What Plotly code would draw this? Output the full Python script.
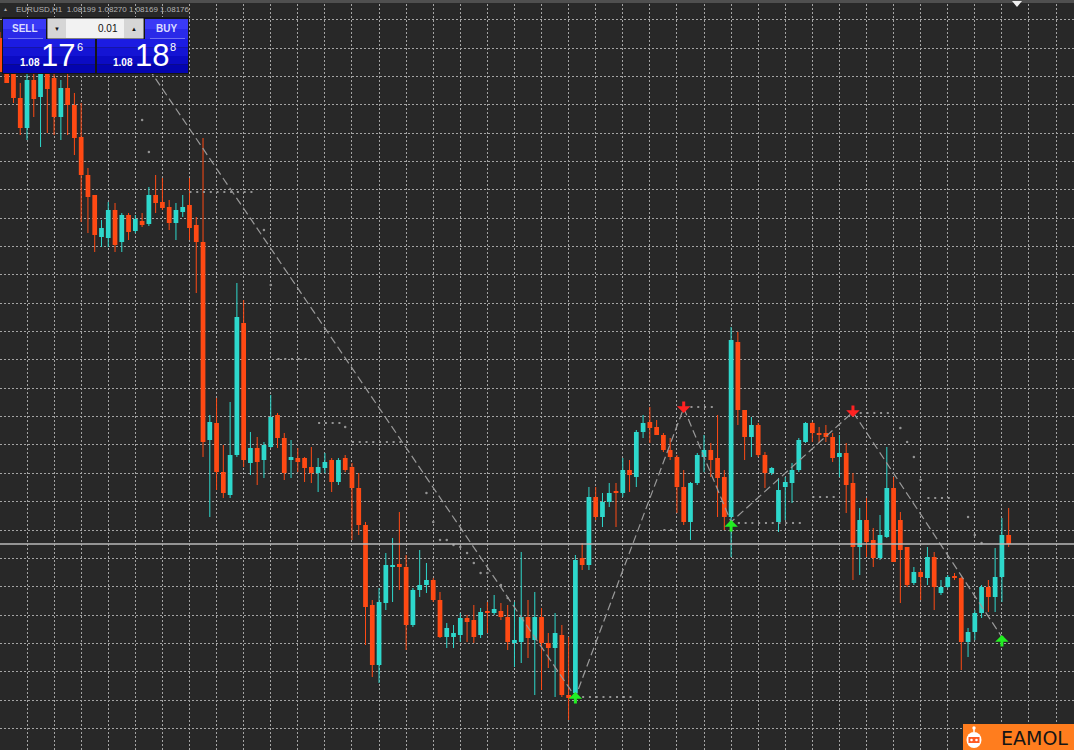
import plotly.graph_objects as go

# ---------------- data (EURUSD H1 bars) ----------------
bars = list(range(-1, 149))
opens = [1.09188, 1.09154, 1.09140, 1.09068, 1.09008, 1.09104, 1.09070, 1.09132, 1.09108, 1.09030,
         1.09088, 1.09054, 1.08990, 1.08914, 1.08874, 1.08790, 1.08788, 1.08844, 1.08780, 1.08834,
         1.08802, 1.08822, 1.08816, 1.08874, 1.08860, 1.08850, 1.08818, 1.08840, 1.08854, 1.08814,
         1.08780, 1.08384, 1.08418, 1.08320, 1.08274, 1.08354, 1.08618, 1.08338, 1.08368, 1.08344,
         1.08370, 1.08434, 1.08388, 1.08344, 1.08348, 1.08348, 1.08330, 1.08318, 1.08328, 1.08344,
         1.08300, 1.08348, 1.08330, 1.08288, 1.08214, 1.08054, 1.07934, 1.08058, 1.08130, 1.08136,
         1.08130, 1.08014, 1.08084, 1.08094, 1.08104, 1.08064, 1.07990, 1.07990, 1.07994, 1.08028,
         1.08024, 1.07994, 1.08042, 1.08038, 1.08042, 1.08030, 1.07978, 1.07980, 1.08030, 1.07984,
         1.08030, 1.07978, 1.07968, 1.07994, 1.07874, 1.07878, 1.08148, 1.08134, 1.08270, 1.08230,
         1.08260, 1.08280, 1.08278, 1.08324, 1.08310, 1.08400, 1.08420, 1.08410, 1.08394, 1.08364,
         1.08350, 1.08290, 1.08220, 1.08298, 1.08350, 1.08364, 1.08348, 1.08310, 1.08230, 1.08580,
         1.08444, 1.08390, 1.08414, 1.08354, 1.08318, 1.08220, 1.08290, 1.08298, 1.08324, 1.08380,
         1.08418, 1.08398, 1.08398, 1.08390, 1.08350, 1.08358, 1.08298, 1.08170, 1.08224, 1.08184,
         1.08148, 1.08190, 1.08288, 1.08224, 1.08170, 1.08098, 1.08120, 1.08108, 1.08150, 1.08078,
         1.08090, 1.08112, 1.08108, 1.07980, 1.08000, 1.08038, 1.08090, 1.08070, 1.08110, 1.08194]
highs = [1.09200, 1.09174, 1.09164, 1.09098, 1.09124, 1.09128, 1.09144, 1.09144, 1.09134, 1.09104,
         1.09124, 1.09078, 1.09058, 1.08928, 1.08874, 1.08824, 1.08860, 1.08858, 1.08838, 1.08838,
         1.08834, 1.08838, 1.08890, 1.08914, 1.08908, 1.08864, 1.08858, 1.08874, 1.08908, 1.08830,
         1.08988, 1.08434, 1.08468, 1.08374, 1.08460, 1.08698, 1.08664, 1.08400, 1.08390, 1.08380,
         1.08474, 1.08438, 1.08398, 1.08384, 1.08368, 1.08350, 1.08370, 1.08348, 1.08358, 1.08348,
         1.08348, 1.08354, 1.08338, 1.08318, 1.08220, 1.08064, 1.08088, 1.08158, 1.08188, 1.08240,
         1.08154, 1.08088, 1.08164, 1.08138, 1.08108, 1.08080, 1.08018, 1.08014, 1.08038, 1.08034,
         1.08054, 1.08048, 1.08060, 1.08074, 1.08058, 1.08054, 1.08060, 1.08160, 1.08064, 1.08080,
         1.08048, 1.07998, 1.08038, 1.08014, 1.07990, 1.08154, 1.08178, 1.08290, 1.08290, 1.08278,
         1.08298, 1.08298, 1.08348, 1.08344, 1.08404, 1.08434, 1.08450, 1.08424, 1.08398, 1.08388,
         1.08354, 1.08324, 1.08300, 1.08358, 1.08394, 1.08378, 1.08434, 1.08324, 1.08610, 1.08600,
         1.08444, 1.08430, 1.08418, 1.08360, 1.08330, 1.08308, 1.08310, 1.08338, 1.08388, 1.08420,
         1.08420, 1.08410, 1.08414, 1.08398, 1.08394, 1.08378, 1.08318, 1.08248, 1.08268, 1.08208,
         1.08234, 1.08370, 1.08310, 1.08240, 1.08170, 1.08130, 1.08124, 1.08170, 1.08160, 1.08104,
         1.08114, 1.08118, 1.08110, 1.08008, 1.08044, 1.08094, 1.08104, 1.08168, 1.08228, 1.08248]
lows = [1.09120, 1.09098, 1.09058, 1.08994, 1.08984, 1.09030, 1.08970, 1.08998, 1.08994, 1.08984,
        1.08994, 1.08954, 1.08820, 1.08798, 1.08760, 1.08770, 1.08770, 1.08760, 1.08760, 1.08784,
        1.08798, 1.08810, 1.08812, 1.08838, 1.08844, 1.08804, 1.08784, 1.08830, 1.08784, 1.08678,
        1.08350, 1.08230, 1.08284, 1.08268, 1.08268, 1.08350, 1.08330, 1.08314, 1.08294, 1.08308,
        1.08368, 1.08368, 1.08304, 1.08308, 1.08320, 1.08300, 1.08298, 1.08280, 1.08318, 1.08280,
        1.08294, 1.08320, 1.08184, 1.08194, 1.07974, 1.07910, 1.07898, 1.08044, 1.08060, 1.08084,
        1.07964, 1.08010, 1.08070, 1.08078, 1.08060, 1.07988, 1.07968, 1.07968, 1.07980, 1.07980,
        1.07978, 1.07988, 1.07998, 1.08034, 1.08024, 1.07964, 1.07930, 1.07938, 1.07948, 1.07874,
        1.07884, 1.07928, 1.07870, 1.07870, 1.07824, 1.07860, 1.08124, 1.08124, 1.08224, 1.08210,
        1.08250, 1.08210, 1.08270, 1.08280, 1.08290, 1.08388, 1.08378, 1.08394, 1.08360, 1.08344,
        1.08238, 1.08214, 1.08184, 1.08294, 1.08320, 1.08310, 1.08230, 1.08204, 1.08150, 1.08414,
        1.08344, 1.08350, 1.08350, 1.08288, 1.08314, 1.08200, 1.08224, 1.08258, 1.08320, 1.08378,
        1.08380, 1.08378, 1.08380, 1.08340, 1.08310, 1.08238, 1.08104, 1.08114, 1.08150, 1.08130,
        1.08144, 1.08188, 1.08140, 1.08058, 1.08090, 1.08094, 1.08064, 1.08094, 1.08044, 1.08074,
        1.08088, 1.08104, 1.07924, 1.07950, 1.07984, 1.08028, 1.08040, 1.08040, 1.08060, 1.08170]
closes = [1.09120, 1.09098, 1.09068, 1.09008, 1.09104, 1.09066, 1.09132, 1.09086, 1.09030, 1.09088,
          1.09054, 1.08988, 1.08914, 1.08870, 1.08794, 1.08808, 1.08844, 1.08774, 1.08834, 1.08800,
          1.08826, 1.08814, 1.08874, 1.08858, 1.08848, 1.08818, 1.08844, 1.08850, 1.08808, 1.08780,
          1.08380, 1.08420, 1.08320, 1.08278, 1.08354, 1.08630, 1.08344, 1.08368, 1.08340, 1.08374,
          1.08430, 1.08388, 1.08318, 1.08350, 1.08340, 1.08328, 1.08318, 1.08330, 1.08340, 1.08300,
          1.08344, 1.08324, 1.08288, 1.08214, 1.08050, 1.07934, 1.08060, 1.08134, 1.08134, 1.08130,
          1.08014, 1.08084, 1.08094, 1.08104, 1.08064, 1.07990, 1.08008, 1.07998, 1.08028, 1.08020,
          1.07990, 1.08040, 1.08038, 1.08046, 1.08030, 1.07980, 1.07984, 1.08030, 1.07988, 1.08030,
          1.07978, 1.07968, 1.07998, 1.07874, 1.07868, 1.08144, 1.08134, 1.08270, 1.08230, 1.08260,
          1.08278, 1.08278, 1.08324, 1.08314, 1.08400, 1.08418, 1.08408, 1.08394, 1.08364, 1.08350,
          1.08290, 1.08220, 1.08298, 1.08354, 1.08364, 1.08344, 1.08308, 1.08230, 1.08584, 1.08444,
          1.08390, 1.08414, 1.08354, 1.08318, 1.08328, 1.08284, 1.08300, 1.08324, 1.08384, 1.08418,
          1.08398, 1.08394, 1.08390, 1.08348, 1.08358, 1.08294, 1.08170, 1.08224, 1.08180, 1.08148,
          1.08194, 1.08288, 1.08140, 1.08164, 1.08094, 1.08120, 1.08110, 1.08150, 1.08090, 1.08090,
          1.08110, 1.08108, 1.07980, 1.08000, 1.08038, 1.08090, 1.08070, 1.08110, 1.08194, 1.08176]

# ZigZag-style signal indicator
zz_bar = [18, 84, 100, 107, 125, 147]
zz_price = [1.09186, 1.07870, 1.08448, 1.08220, 1.08440, 1.07990]
buy_bar = [84, 107, 147]
buy_price = [1.07880, 1.08224, 1.07994]
sell_bar = [100, 125]
sell_price = [1.08438, 1.08430]

# dotted indicator levels: (first bar, last bar, price)
lvl_start = [27, 40, 46, 51, 85, 97, 101, 108, 119, 126, 136]
lvl_end = [37, 45, 50, 60, 93, 99, 105, 118, 123, 131, 140]
lvl_price = [1.08880, 1.08546, 1.08418, 1.08380, 1.07870, 1.08204, 1.08450, 1.08218, 1.08270, 1.08438, 1.08268]
# single indicator dots
dot_bar = [20, 21, 38, 39, 50, 62, 63, 64, 65, 66, 67, 68, 69, 70, 71, 73, 74,
           132, 133, 134, 135, 142, 143, 144]
dot_price = [1.09024, 1.08960, 1.08804, 1.08694, 1.08410, 1.08278, 1.08220, 1.08184, 1.08184,
             1.08174, 1.08170, 1.08158, 1.08138, 1.08118, 1.08118, 1.08094, 1.08068,
             1.08408, 1.08380, 1.08350, 1.08304, 1.08230, 1.08194, 1.08178]

symbol = "EURUSD,H1"
last_ohlc = ["1.08199", "1.08270", "1.08169", "1.08176"]
bid_price = 1.08176

# ---------------- styling ----------------
W, H = 1074, 750
BG = "#282828"
GRID = "#a4a4a4"
BULL = "#2ed8cc"
BEAR = "#ff4a14"

fig = go.Figure()

# wicks
for is_bull, col in [(True, BULL), (False, BEAR)]:
    xs, ys = [], []
    for b, o, h, l, c in zip(bars, opens, highs, lows, closes):
        if (c >= o) == is_bull:
            xs += [b, b, None]
            ys += [l, h, None]
    fig.add_trace(go.Scatter(x=xs, y=ys, mode="lines", line=dict(color=col, width=1),
                             hoverinfo="skip", showlegend=False))

# bodies
for is_bull, col in [(True, BULL), (False, BEAR)]:
    bx, bb, bh = [], [], []
    for b, o, c in zip(bars, opens, closes):
        if (c >= o) == is_bull:
            bx.append(b)
            bb.append(min(o, c))
            bh.append(max(abs(c - o), 0.000025))
    fig.add_trace(go.Bar(x=bx, y=bh, base=bb, width=0.7, marker=dict(color=col, line=dict(width=0)),
                         hoverinfo="skip", showlegend=False))

# zigzag dashed line
fig.add_trace(go.Scatter(x=zz_bar, y=zz_price, mode="lines",
                         line=dict(color="#9a9a9a", width=1.2, dash="8px,4px"),
                         hoverinfo="skip", showlegend=False))

# dotted levels
for s, e, p in zip(lvl_start, lvl_end, lvl_price):
    fig.add_trace(go.Scatter(x=[s, e], y=[p, p], mode="lines",
                             line=dict(color="#939393", width=2, dash="2px,4.77px"),
                             hoverinfo="skip", showlegend=False))
fig.add_trace(go.Scatter(x=dot_bar, y=dot_price, mode="markers",
                         marker=dict(color="#939393", size=2.5),
                         hoverinfo="skip", showlegend=False))

X_RANGE = [-0.99, 157.65]
Y_RANGE = [1.07764, 1.09264]

fig.update_layout(
    width=W, height=H, margin=dict(l=0, r=0, t=0, b=0),
    paper_bgcolor=BG, plot_bgcolor=BG, barmode="overlay", showlegend=False,
    hovermode=False,
    xaxis=dict(range=X_RANGE, showgrid=True, gridcolor=GRID, griddash="1.5px,2.5px", gridwidth=1.3,
               tick0=-1, dtick=4, showticklabels=False, zeroline=False, showline=False, ticks=""),
    yaxis=dict(range=Y_RANGE, showgrid=True, gridcolor=GRID, griddash="1.5px,2.5px", gridwidth=1.3,
               tick0=1.08204, dtick=0.000567, showticklabels=False, zeroline=False, showline=False,
               ticks=""),
)

shapes = []
anns = []


def PX(x):
    return x / W


def PY(y):
    return 1 - y / H


def rect(x0, y0, x1, y1, fill, line=None, lw=0):
    shapes.append(dict(type="rect", xref="paper", yref="paper", x0=PX(x0), x1=PX(x1),
                       y0=PY(y1), y1=PY(y0), fillcolor=fill,
                       line=dict(color=line or fill, width=lw), layer="above"))


def text(x, y, s, size, color, xanchor="center", family="Liberation Sans", bold=False):
    if bold:
        s = "<b>" + s + "</b>"
    anns.append(dict(xref="paper", yref="paper", x=PX(x), y=PY(y), text=s, showarrow=False,
                     xanchor=xanchor, yanchor="middle",
                     font=dict(size=size, color=color, family=family)))


# bid price line
shapes.append(dict(type="line", xref="paper", yref="y", x0=0, x1=1, y0=bid_price, y1=bid_price,
                   line=dict(color="#b9b9b9", width=1.6), layer="above"))

# top strip + shift marker
rect(0, 0, W, 3, "#4f4f4f")
shapes.append(dict(type="path", xref="paper", yref="paper",
                   path=f"M {PX(1012)},{PY(1)} L {PX(1022)},{PY(1)} L {PX(1017)},{PY(7)} Z",
                   fillcolor="#f0f0f0", line=dict(width=0), layer="above"))

# header text
text(5, 9, "▲", 5, "#a8a8a8")
text(14, 9, symbol + "  " + " ".join(last_ohlc), 8, "#b4b4b4", xanchor="left")

# one-click trading panel
rect(2, 17, 189, 74, "#161616")
for (x0, x1) in [(3, 46), (145, 188)]:
    rect(x0, 19, x1, 29, "#3a3af6")
    rect(x0, 29, x1, 39, "#2a2ae8")
    shapes.append(dict(type="line", xref="paper", yref="paper", x0=PX(x0 + 5), x1=PX(x1 - 3),
                       y0=PY(38.5), y1=PY(38.5), line=dict(color="#7070f0", width=1), layer="above"))
rect(47, 18, 144, 39, "#f2f2f2", "#101010", 1)
rect(48, 19, 66, 38, "#d6d6d6")
rect(124, 19, 143, 38, "#d6d6d6")
text(57, 28.5, "▼", 6, "#111111")
text(133.5, 28.5, "▲", 6, "#111111")
text(120, 29, "0.01", 10, "#111111", xanchor="right")
text(24.5, 29, "SELL", 10, "#dcdcff", bold=True)
text(166, 29, "BUY", 10, "#dcdcff", bold=True)
band_cols = ["#1c1ce2", "#1414d4", "#0b0bc4", "#0404b0"]
for (x0, x1) in [(3, 95), (97, 188)]:
    for i, col in enumerate(band_cols):
        rect(x0, 39 + i * 8.5, x1, 39 + (i + 1) * 8.5, col)
text(30, 62, "1.08", 10, "#ffffff", bold=True)
text(58, 55, "17", 31, "#ffffff")
text(80, 47, "6", 11, "#ffffff")
text(123, 62, "1.08", 10, "#ffffff", bold=True)
text(152, 55, "18", 31, "#ffffff")
text(173, 47, "8", 11, "#ffffff")

# EAMOL badge
rect(963, 724, W, 750, "#ff7d1e")
shapes.append(dict(type="circle", xref="paper", yref="paper", x0=PX(966.5), x1=PX(981.5),
                   y0=PY(748), y1=PY(732), fillcolor="#ffffff", line=dict(width=0), layer="above"))
shapes.append(dict(type="line", xref="paper", yref="paper", x0=PX(974), x1=PX(974),
                   y0=PY(732), y1=PY(728.5), line=dict(color="#ffffff", width=1.5), layer="above"))
shapes.append(dict(type="circle", xref="paper", yref="paper", x0=PX(972.3), x1=PX(975.7),
                   y0=PY(729.7), y1=PY(726.3), fillcolor="#ffffff", line=dict(width=0), layer="above"))
rect(968.5, 737, 979.5, 743, "#ff5a22")
for ex in (971.5, 976.5):
    shapes.append(dict(type="circle", xref="paper", yref="paper", x0=PX(ex - 1.3), x1=PX(ex + 1.3),
                       y0=PY(741.3), y1=PY(738.7), fillcolor="#ffffff", line=dict(width=0),
                       layer="above"))
text(1034, 737.5, "EAMOL", 19, "#151515", family="DejaVu Sans")

# signal arrows (shaft + head)
for b, p in zip(sell_bar, sell_price):
    anns.append(dict(x=b, y=p, xref="x", yref="y", text="", showarrow=True, ax=0, ay=-13,
                     arrowhead=1, arrowsize=0.75, arrowwidth=3, arrowcolor="#ff2222"))
for b, p in zip(buy_bar, buy_price):
    anns.append(dict(x=b, y=p, xref="x", yref="y", text="", showarrow=True, ax=0, ay=13,
                     arrowhead=1, arrowsize=0.75, arrowwidth=3, arrowcolor="#22ee22"))

fig.update_layout(shapes=shapes, annotations=anns)

fig.write_html("out.html", config={"displayModeBar": False},
               post_script="document.body.style.margin='0';document.body.style.overflow='hidden';")
